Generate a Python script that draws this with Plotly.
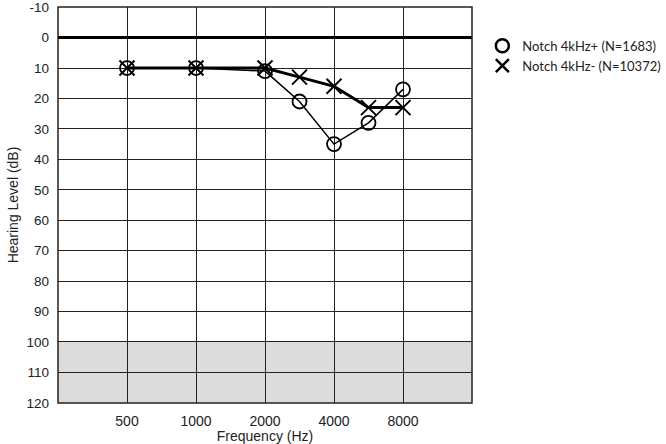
import plotly.graph_objects as go

# Data
categories = ["500", "750", "1000", "1500", "2000", "3000", "4000", "6000", "8000"]
freqs = ["500", "1000", "2000", "3000", "4000", "6000", "8000"]
notch_plus = [10, 10, 11, 21, 35, 28, 17]
notch_minus = [10, 10, 10, 13, 16, 23, 23]
octave_ticks = ["500", "1000", "2000", "4000", "8000"]
half_octaves = ["750", "1500", "3000", "6000"]
y_ticks = list(range(-10, 130, 10))
y_tick_text = [str(v) for v in y_ticks]
label_plus = "Notch 4kHz+ (N=1683)"
label_minus = "Notch 4kHz- (N=10372)"

fig = go.Figure()

fig.add_trace(go.Scatter(
    x=freqs, y=notch_plus, mode="lines+markers", showlegend=False,
    line=dict(color="black", width=1.5),
    marker=dict(symbol="circle-open", size=14, color="black", line=dict(width=1.8)),
))
fig.add_trace(go.Scatter(
    x=freqs, y=notch_minus, mode="lines+markers", showlegend=False,
    line=dict(color="black", width=3),
    marker=dict(symbol="x-thin-open", size=15, color="black", line=dict(width=2, color="black")),
))
# legend-only entries
fig.add_trace(go.Scatter(
    x=[None], y=[None], mode="markers", name=label_plus,
    marker=dict(symbol="circle-open", size=13, color="black", line=dict(width=2.5)),
))
fig.add_trace(go.Scatter(
    x=[None], y=[None], mode="markers", name=label_minus,
    marker=dict(symbol="x-thin-open", size=13, color="black", line=dict(width=2.5, color="black")),
))

shapes = [dict(type="rect", xref="paper", yref="y", x0=0, x1=1, y0=100, y1=120,
               fillcolor="#dcdcdc", line=dict(width=0), layer="below")]
for h in half_octaves:
    shapes.append(dict(type="line", xref="x", yref="paper", x0=h, x1=h, y0=0, y1=1,
                       line=dict(color="#222", width=1.3, dash="dash"), layer="below"))
shapes.append(dict(type="rect", xref="paper", yref="paper", x0=0, x1=1, y0=0, y1=1,
                   line=dict(color="#222", width=1.5), layer="above"))

fig.update_layout(
    width=666, height=444,
    margin=dict(l=58, r=194, t=7, b=41, autoexpand=False),
    paper_bgcolor="white", plot_bgcolor="white",
    font=dict(family="Liberation Sans, Arial, sans-serif", size=14, color="#222"),
    shapes=shapes,
    legend=dict(x=1.025, y=0.94, xanchor="left", yanchor="top",
                font=dict(family="Lato, sans-serif", size=13, color="#222"), itemwidth=30,
                tracegroupgap=0, bgcolor="rgba(0,0,0,0)"),
    xaxis=dict(type="category", categoryorder="array", categoryarray=categories,
               range=[-2, 10], tickvals=octave_ticks, ticktext=octave_ticks,
               showgrid=True, gridcolor="#222", gridwidth=1.2, automargin=False,
               showline=False, zeroline=False, ticks="", ticklabelstandoff=8,
               tickfont=dict(size=14),
               title=dict(text="Frequency (Hz)", standoff=0, font=dict(size=14))),
    yaxis=dict(range=[120.05, -10.05], tickvals=y_ticks, ticktext=y_tick_text,
               showgrid=True, gridcolor="#222", gridwidth=1.2, automargin=False,
               ticklabeloverflow="allow", ticklabelstandoff=8, tickfont=dict(size=13.5),
               zeroline=True, zerolinecolor="black", zerolinewidth=2.5,
               showline=False, ticks="",
               title=dict(text="Hearing Level (dB)", standoff=4, font=dict(size=14))),
)

fig.write_html("out.html", config={"displayModeBar": False},
               post_script="document.body.style.margin='0';")
